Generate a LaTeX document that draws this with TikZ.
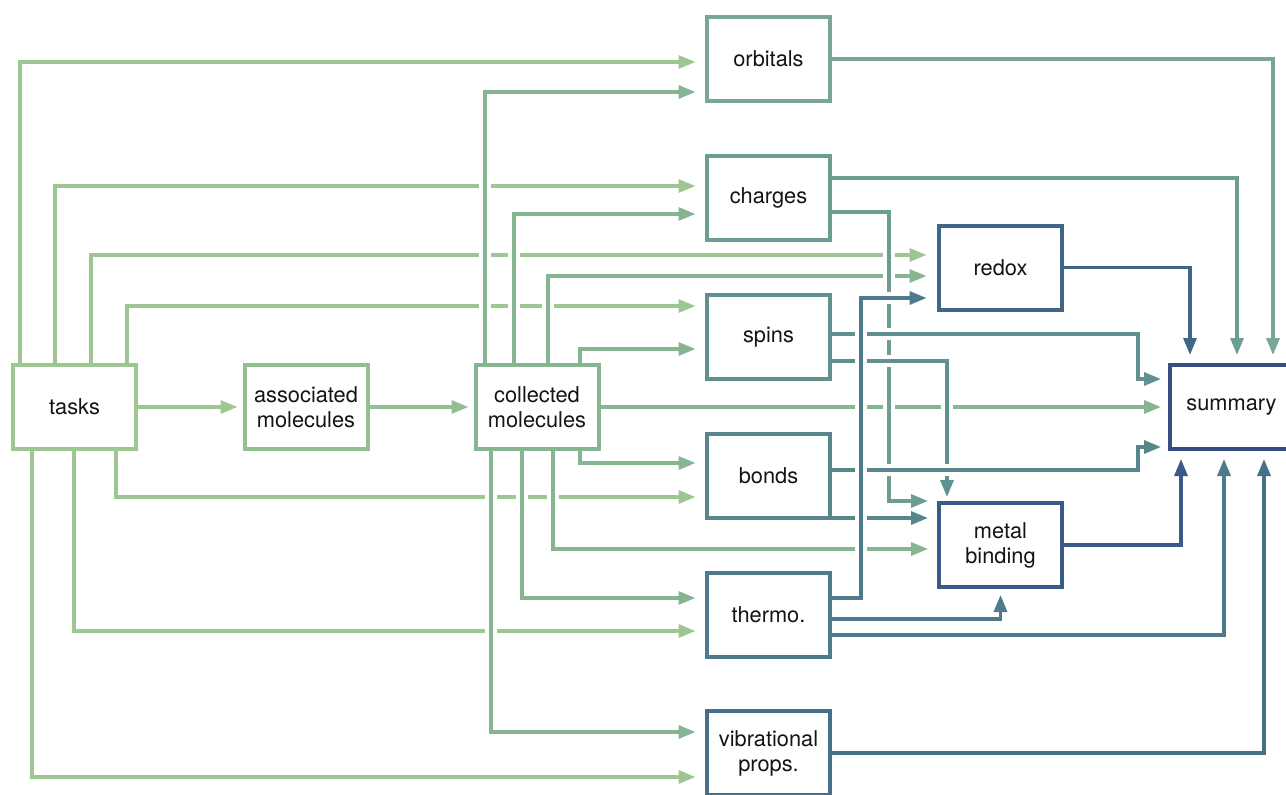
\documentclass[tikz,border=0pt]{standalone}
\usepackage{fontspec}
\setmainfont{TeX Gyre Heros}
\usetikzlibrary{arrows.meta}
\pgfdeclarelayer{bg}
\pgfsetlayers{bg,main}
\definecolor{cT}{RGB}{158,198,146}
\definecolor{cA}{RGB}{146,191,145}
\definecolor{cC}{RGB}{133,181,145}
\definecolor{cO}{RGB}{120,168,147}
\definecolor{cCh}{RGB}{108,157,146}
\definecolor{cS}{RGB}{96,144,144}
\definecolor{cB}{RGB}{87,134,141}
\definecolor{cTh}{RGB}{77,123,139}
\definecolor{cV}{RGB}{70,112,138}
\definecolor{cR}{RGB}{63,101,137}
\definecolor{cM}{RGB}{58,90,136}
\definecolor{cSum}{RGB}{53,78,132}
\begin{document}
\begin{tikzpicture}[x=1pt,y=-1pt,
  box/.style={draw=#1, line width=4pt, fill=white, minimum width=123pt, minimum height=84pt,
    align=center, inner sep=0pt, font=\fontsize{21.8}{25}\selectfont, text=black!92},
  ed/.style={draw=#1, line width=3.2pt, line join=miter,
    -{Triangle[length=17pt,width=13pt]},
    preaction={draw=white, line width=12pt, arrows=-}},
  sh/.style={shorten >=#1pt}
]
\useasboundingbox (0,0) rectangle (1286,795);
% nodes
\node[box=cT] (tasks) at (74.5,407) {tasks};
\node[box=cA] (assoc) at (306,407) {associated\\molecules};
\node[box=cC] (coll) at (537,407) {collected\\molecules};
\node[box=cO] (orbitals) at (768.5,59) {orbitals};
\node[box=cCh] (charges) at (768.5,198) {charges};
\node[box=cS] (spins) at (768.5,337) {spins};
\node[box=cB] (bonds) at (768.5,476) {bonds};
\node[box=cTh] (thermo) at (768.5,615) {thermo.};
\node[box=cV] (vib) at (768.5,753) {vibrational\\props.};
\node[box=cR] (redox) at (1000.5,267.5) {redox};
\node[box=cM] (metal) at (1000.5,545) {metal\\binding};
\node[box=cSum] (summary) at (1231.5,407) {summary};
\begin{pgfonlayer}{bg}
% tasks
\draw[ed=cT,sh=9.5] (tasks.north -| 20,0) |- (orbitals.west |- 0,62);
\draw[ed=cT,sh=9.5] (tasks.north -| 55,0) |- (charges.west |- 0,186);
\draw[ed=cT,sh=10.5] (tasks.north -| 91,0) |- (redox.west |- 0,255);
\draw[ed=cT,sh=9.5] (tasks.north -| 127,0) |- (spins.west |- 0,306);
\draw[ed=cT,sh=5] (tasks) -- (assoc);
\draw[ed=cT,sh=9.5] (tasks.south -| 116,0) |- (bonds.west |- 0,497);
\draw[ed=cT,sh=9.5] (tasks.south -| 74,0) |- (thermo.west |- 0,631);
\draw[ed=cT,sh=9.5] (tasks.south -| 32,0) |- (vib.west |- 0,777);
% associated
\draw[ed=cA,sh=5] (assoc) -- (coll);
% collected
\draw[ed=cC,sh=9.5] (coll.north -| 485,0) |- (orbitals.west |- 0,92);
\draw[ed=cC,sh=9.5] (coll.north -| 514,0) |- (charges.west |- 0,214);
\draw[ed=cC,sh=10.5] (coll.north -| 548,0) |- (redox.west |- 0,276);
\draw[ed=cC,sh=9.5] (coll.north -| 580,0) |- (spins.west |- 0,349);
\draw[ed=cC,sh=7] (coll) -- (summary);
\draw[ed=cC,sh=9.5] (coll.south -| 580,0) |- (bonds.west |- 0,463);
\draw[ed=cC,sh=9] (coll.south -| 553,0) |- (metal.west |- 0,549);
\draw[ed=cC,sh=9.5] (coll.south -| 522,0) |- (thermo.west |- 0,598);
\draw[ed=cC,sh=9.5] (coll.south -| 491,0) |- (vib.west |- 0,732);
% orbitals
\draw[ed=cO,sh=8] (orbitals.east) -| (summary.north -| 1273,0);
% charges
\draw[ed=cCh,sh=8] (charges.east |- 0,178) -| (summary.north -| 1237,0);
\draw[ed=cCh,sh=9] (charges.east |- 0,212) -| (889,501) -- (metal.west |- 0,501);
% spins
\draw[ed=cS,sh=7] (spins.east |- 0,334) -| (1138,379) -- (summary.west |- 0,379);
\draw[ed=cS,sh=4] (spins.east |- 0,361) -| (metal.north -| 947,0);
% bonds
\draw[ed=cB,sh=7] (bonds.east |- 0,470) -| (1138,447) -- (summary.west |- 0,447);
\draw[ed=cB,sh=9] (bonds.east |- 0,518) -- (metal.west |- 0,518);
% thermo
\draw[ed=cTh,sh=10.5] (thermo.east |- 0,598) -| (861,298) -- (redox.west |- 0,298);
\draw[ed=cTh,sh=6] (thermo.east |- 0,619) -| (metal.south);
\draw[ed=cTh,sh=8] (thermo.east |- 0,635) -| (summary.south -| 1224,0);
% vibrational
\draw[ed=cV,sh=8] (vib.east) -| (summary.south -| 1264,0);
% redox
\draw[ed=cR,sh=8] (redox.east) -| (summary.north -| 1190,0);
% metal binding
\draw[ed=cM,sh=8] (metal.east) -| (summary.south -| 1181,0);
\end{pgfonlayer}
\end{tikzpicture}
\end{document}
